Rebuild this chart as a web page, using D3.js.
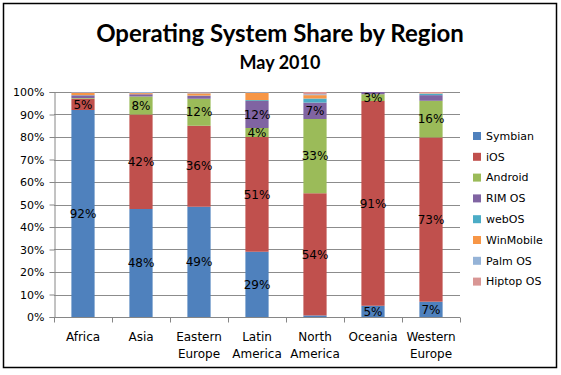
<!DOCTYPE html>
<html>
<head>
<meta charset="utf-8">
<script src="https://cdn.jsdelivr.net/npm/d3@7"></script>
<style>
	body { margin: 0; background: #fff; }
	svg { display: block; }
	.title { font-family: Lato, "Open Sans", sans-serif; font-weight: bold; fill: #000; }
	.tick text { font-family: "DejaVu Sans", sans-serif; fill: #000; }
	.grid line { stroke: #8c8c8c; stroke-width: 1; }
	.lbl { font-family: "DejaVu Sans", sans-serif; font-size: 12px; fill: #000; }
	.legend text { font-family: "DejaVu Sans", sans-serif; font-size: 11px; fill: #000; }
</style>
</head>
<body>
<script>
// categories and series (percent of region)
var regions = ["Africa", "Asia", "Eastern Europe", "Latin America", "North America", "Oceania", "Western Europe"];
var systems = ["Symbian", "iOS", "Android", "RIM OS", "webOS", "WinMobile", "Palm OS", "Hiptop OS"];
var colors = ["#4f81bd", "#c0504d", "#9bbb59", "#8064a2", "#4bacc6", "#f79646", "#95b3d7", "#d99694"];

var symbian   = [92, 48, 49, 29, 0.7, 5, 6.8];
var ios       = [5, 42, 36, 51, 54.3, 91, 73];
var android   = [0.3, 8, 12, 4, 33, 3, 16.3];
var rim       = [1.2, 1, 1.3, 12, 7.3, 1, 2.5];
var webos     = [0.1, 0, 0.1, 0.4, 1.8, 0, 0.6];
var winmobile = [1, 0.5, 1, 3.3, 1.5, 0, 0.2];
var palm      = [0.3, 0.5, 0.4, 0.3, 0.4, 0, 0.1];
var hiptop    = [0.1, 0, 0.2, 0, 1, 0, 0.5];

var yTicks = [0, 10, 20, 30, 40, 50, 60, 70, 80, 90, 100];

var width = 561, height = 375;
var svg = d3.select("body").append("svg")
	.attr("width", width)
	.attr("height", height);

// outer frame
svg.append("rect")
	.attr("x", 3.5).attr("y", 3.5)
	.attr("width", 553).attr("height", 364)
	.attr("fill", "#fff")
	.attr("stroke", "#000")
	.attr("stroke-width", 1.5);

// titles
svg.append("text").attr("class", "title")
	.attr("x", 280).attr("y", 42)
	.attr("text-anchor", "middle")
	.style("font-size", "24px")
	.text("Operating System Share by Region");
svg.append("text").attr("class", "title")
	.attr("x", 280).attr("y", 69)
	.attr("text-anchor", "middle")
	.style("font-size", "18px")
	.text("May 2010");

// build rows for stack
var seriesVals = [symbian, ios, android, rim, webos, winmobile, palm, hiptop];
var rows = regions.map(function(r, i){
	var row = { region: r };
	systems.forEach(function(s, j){ row[s] = seriesVals[j][i]; });
	return row;
});
var stack = d3.stack().keys(systems)(rows);

var plotLeft = 54, plotRight = 460, plotTop = 92, plotBottom = 317;

var x = d3.scaleBand()
	.domain(regions)
	.range([plotLeft, plotRight])
	.paddingInner(0.6)
	.paddingOuter(0.3);

var y = d3.scaleLinear()
	.domain([0, 100])
	.range([plotBottom, plotTop]);

// gridlines
svg.append("g").attr("class", "grid")
	.selectAll("line")
	.data(yTicks.slice(1))
	.enter().append("line")
	.attr("x1", plotLeft).attr("x2", plotRight)
	.attr("y1", function(d){ return Math.round(y(d)) + 0.5; })
	.attr("y2", function(d){ return Math.round(y(d)) + 0.5; });

// bars
var groups = svg.selectAll(".series")
	.data(stack)
	.enter().append("g")
	.attr("class", "series")
	.attr("fill", function(d, i){ return colors[i]; });

groups.selectAll("rect")
	.data(function(d){ return d; })
	.enter().append("rect")
	.attr("x", function(d){ return x(d.data.region); })
	.attr("width", x.bandwidth())
	.attr("y", function(d){ return y(d[1]); })
	.attr("height", function(d){ return y(d[0]) - y(d[1]); });

// value labels (first four series, visible segments only)
stack.forEach(function(s, i){
	if (i > 3) return;
	s.forEach(function(d){
		var v = d[1] - d[0];
		if (v < 3) return;
		svg.append("text").attr("class", "lbl")
			.attr("x", x(d.data.region) + x.bandwidth() / 2)
			.attr("y", y((d[0] + d[1]) / 2))
			.attr("dy", "0.35em")
			.attr("text-anchor", "middle")
			.text(Math.round(v) + "%");
	});
});

// y axis
var yAxis = svg.append("g")
	.attr("transform", "translate(" + (plotLeft + 0.5) + ",0)")
	.call(d3.axisLeft(y).tickValues(yTicks).tickSize(5).tickPadding(5)
		.tickFormat(function(d){ return d + "%"; }));
yAxis.selectAll("line, path").attr("stroke", "#868686");
yAxis.selectAll("text").style("font-size", "11px");

// x axis
var xAxis = svg.append("g")
	.attr("transform", "translate(0," + (plotBottom + 0.5) + ")");
xAxis.append("line")
	.attr("x1", plotLeft).attr("x2", plotRight)
	.attr("stroke", "#868686");
xAxis.selectAll(".xt")
	.data(d3.range(regions.length + 1))
	.enter().append("line")
	.attr("x1", function(i){ return Math.round(plotLeft + x.step() * i) + 0.5; })
	.attr("x2", function(i){ return Math.round(plotLeft + x.step() * i) + 0.5; })
	.attr("y1", 0).attr("y2", 5)
	.attr("stroke", "#868686");

xAxis.selectAll(".cat")
	.data(regions)
	.enter().append("text")
	.attr("class", "lbl")
	.attr("x", function(d){ return x(d) + x.bandwidth() / 2; })
	.attr("y", 23)
	.attr("text-anchor", "middle")
	.style("font-size", "12px")
	.each(function(d){
		var words = d.split(" ");
		var t = d3.select(this);
		words.forEach(function(w, k){
			t.append("tspan")
				.attr("x", x(d) + x.bandwidth() / 2)
				.attr("dy", k === 0 ? 0 : 17)
				.text(w);
		});
	});

// legend
var legend = svg.append("g").attr("class", "legend")
	.attr("transform", "translate(473,136)");
var items = legend.selectAll("g")
	.data(systems)
	.enter().append("g")
	.attr("transform", function(d, i){ return "translate(0," + (i * 20.8) + ")"; });
items.append("rect")
	.attr("x", 0).attr("y", -4)
	.attr("width", 8).attr("height", 8)
	.attr("fill", function(d, i){ return colors[i]; });
items.append("text")
	.attr("x", 13).attr("y", 0)
	.attr("dy", "0.35em")
	.text(function(d){ return d; });
</script>
</body>
</html>
